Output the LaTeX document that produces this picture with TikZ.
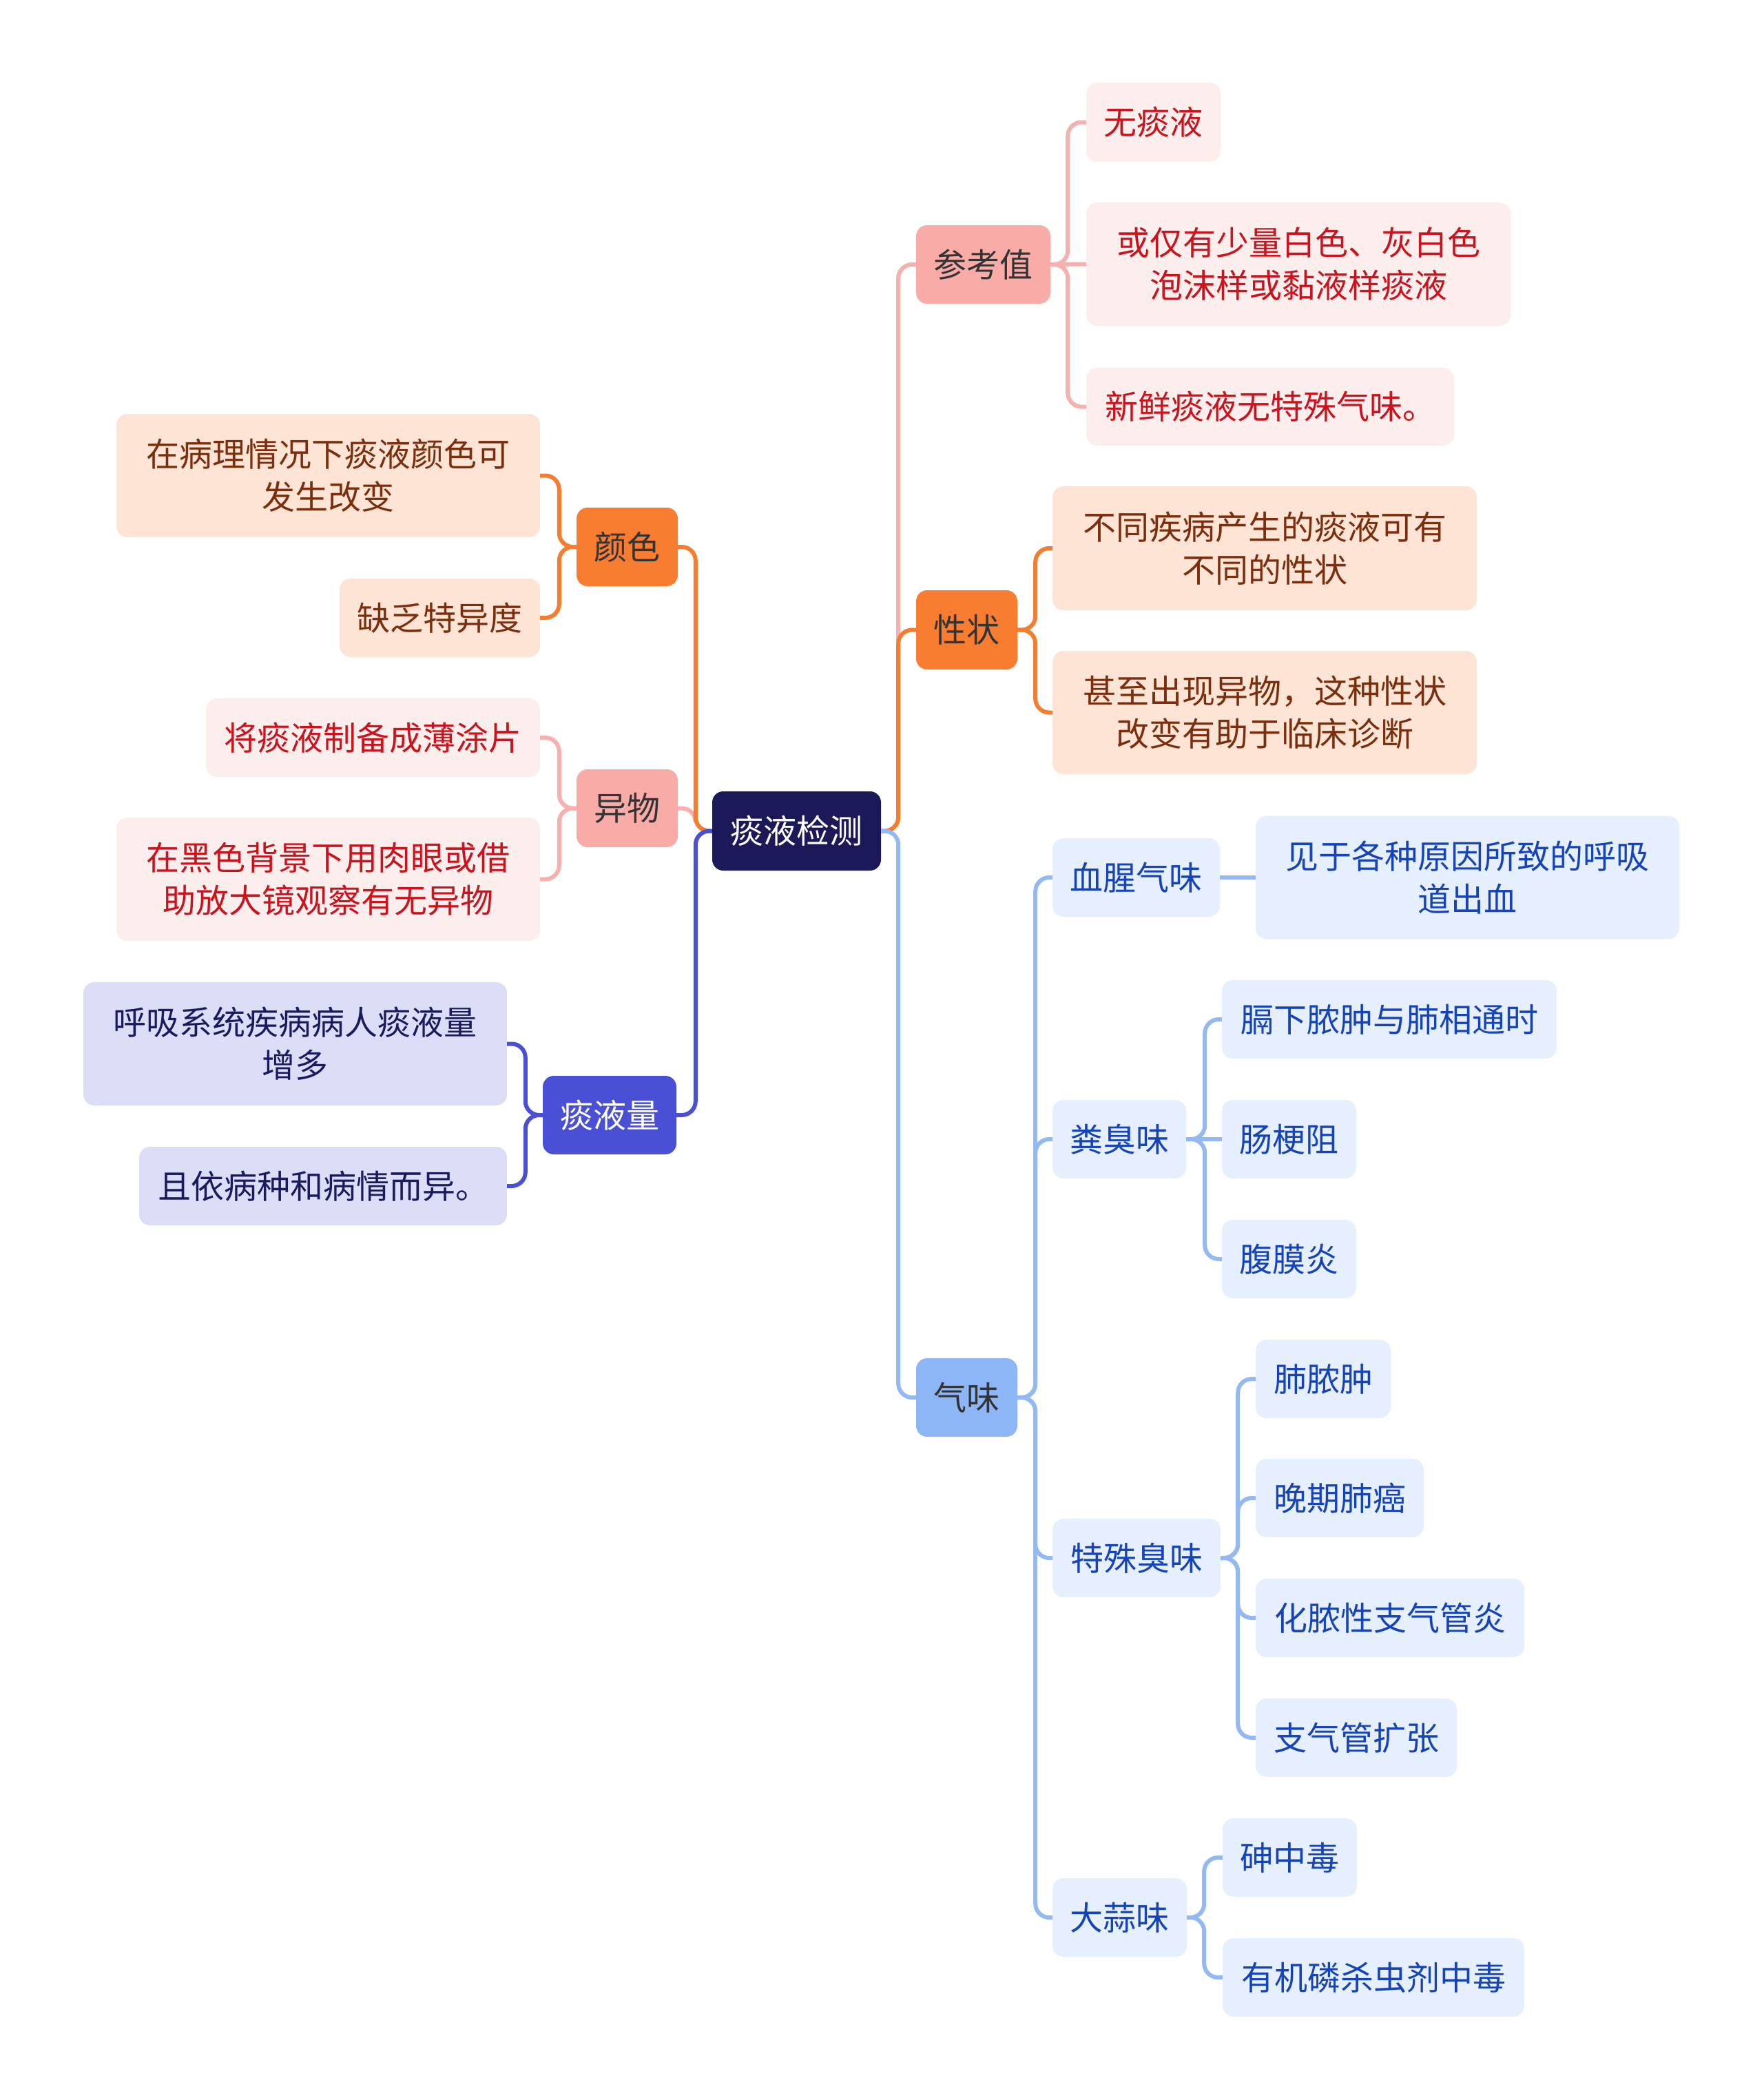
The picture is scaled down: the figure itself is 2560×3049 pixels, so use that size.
\documentclass[tikz,border=0pt]{standalone}
\usepackage{fontspec}
\usepackage{tikz}
\newfontfamily\cjk{Noto Sans CJK SC}
\definecolor{rootnavy}{RGB}{27,25,88}
\definecolor{pinkfill}{RGB}{249,171,168}
\definecolor{pinkleaf}{RGB}{253,238,238}
\definecolor{pinkline}{RGB}{246,176,174}
\definecolor{pinktext}{RGB}{204,18,28}
\definecolor{orangefill}{RGB}{249,125,49}
\definecolor{orangeleaf}{RGB}{253,228,212}
\definecolor{orangeline}{RGB}{245,125,48}
\definecolor{orangetext}{RGB}{122,46,14}
\definecolor{violetfill}{RGB}{74,80,214}
\definecolor{violetleaf}{RGB}{220,221,247}
\definecolor{violetline}{RGB}{75,80,210}
\definecolor{violettext}{RGB}{26,26,94}
\definecolor{bluefill}{RGB}{141,182,247}
\definecolor{blueleaf}{RGB}{230,239,253}
\definecolor{blueline}{RGB}{148,185,242}
\definecolor{bluetext}{RGB}{22,68,184}
\definecolor{darktext}{RGB}{51,51,51}

\begin{document}
\begin{tikzpicture}[
    x=1pt, y=-1pt,
    box/.style={rectangle, rounded corners=16, inner sep=0pt, align=center, font=\cjk\fontsize{48}{62}\selectfont},
    rootbox/.style={box, fill=rootnavy, text=white},
    pinktopic/.style={box, fill=pinkfill, text=darktext},
    pinknote/.style={box, fill=pinkleaf, text=pinktext},
    orangetopic/.style={box, fill=orangefill, text=darktext},
    orangenote/.style={box, fill=orangeleaf, text=orangetext},
    violettopic/.style={box, fill=violetfill, text=white},
    violetnote/.style={box, fill=violetleaf, text=violettext},
    bluetopic/.style={box, fill=bluefill, text=darktext},
    bluenote/.style={box, fill=blueleaf, text=bluetext},
    link/.style={line width=6pt, rounded corners=20pt},
    pinklink/.style={link, draw=pinkline},
    orangelink/.style={link, draw=orangeline},
    violetlink/.style={link, draw=violetline},
    bluelink/.style={link, draw=blueline}
]
\useasboundingbox (0,0) rectangle (2560,3049);

\node[rootbox, minimum width=245, minimum height=115] (root) at (1156.5,1206.5) {痰液检测};

\node[pinktopic, minimum width=195, minimum height=114] (ref) at (1427.5,384) {参考值};
\node[pinknote, minimum width=195, minimum height=115] (ref1) at (1674.5,177.5) {无痰液};
\node[pinknote, minimum width=616, minimum height=179] (ref2) at (1885,383.5) {或仅有少量白色、灰白色\\泡沫样或黏液样痰液};
\node[pinknote, minimum width=534, minimum height=113] (ref3) at (1844,590.5) {新鲜痰液无特殊气味。};

\node[orangetopic, minimum width=147, minimum height=115] (trait) at (1403.5,914.5) {性状};
\node[orangenote, minimum width=616, minimum height=180] (trait1) at (1836,796) {不同疾病产生的痰液可有\\不同的性状};
\node[orangenote, minimum width=616, minimum height=179] (trait2) at (1836,1034.5) {甚至出现异物，这种性状\\改变有助于临床诊断};

\node[bluetopic, minimum width=147, minimum height=114] (smell) at (1403.5,2029) {气味};
\node[bluenote, minimum width=243, minimum height=114] (blood) at (1649.5,1274) {血腥气味};
\node[bluenote, minimum width=615, minimum height=179] (blood1) at (2130.5,1274) {见于各种原因所致的呼吸\\道出血};
\node[bluenote, minimum width=194, minimum height=114] (fecal) at (1625,1654) {粪臭味};
\node[bluenote, minimum width=486, minimum height=114] (fecal1) at (2017,1480) {膈下脓肿与肺相通时};
\node[bluenote, minimum width=195, minimum height=114] (fecal2) at (1871.5,1654) {肠梗阻};
\node[bluenote, minimum width=195, minimum height=114] (fecal3) at (1871.5,1828) {腹膜炎};
\node[bluenote, minimum width=244, minimum height=114] (odd) at (1650,2262) {特殊臭味};
\node[bluenote, minimum width=196, minimum height=114] (odd1) at (1921,2002) {肺脓肿};
\node[bluenote, minimum width=244, minimum height=114] (odd2) at (1945,2175) {晚期肺癌};
\node[bluenote, minimum width=390, minimum height=114] (odd3) at (2018,2349) {化脓性支气管炎};
\node[bluenote, minimum width=292, minimum height=114] (odd4) at (1969,2523) {支气管扩张};
\node[bluenote, minimum width=195, minimum height=114] (garlic) at (1625.5,2784) {大蒜味};
\node[bluenote, minimum width=195, minimum height=114] (garlic1) at (1872.5,2697) {砷中毒};
\node[bluenote, minimum width=438, minimum height=114] (garlic2) at (1994,2871) {有机磷杀虫剂中毒};

\node[orangetopic, minimum width=147, minimum height=114] (colour) at (910.5,794) {颜色};
\node[orangenote, minimum width=615, minimum height=179] (colour1) at (476.5,690.5) {在病理情况下痰液颜色可\\发生改变};
\node[orangenote, minimum width=291, minimum height=114] (colour2) at (638.5,897) {缺乏特异度};

\node[pinktopic, minimum width=147, minimum height=113] (foreign) at (910.5,1173.5) {异物};
\node[pinknote, minimum width=485, minimum height=114] (foreign1) at (541.5,1071) {将痰液制备成薄涂片};
\node[pinknote, minimum width=615, minimum height=179] (foreign2) at (476.5,1276.5) {在黑色背景下用肉眼或借\\助放大镜观察有无异物};

\node[violettopic, minimum width=194, minimum height=114] (amount) at (885,1619) {痰液量};
\node[violetnote, minimum width=615, minimum height=179] (amount1) at (428.5,1515.5) {呼吸系统疾病病人痰液量\\增多};
\node[violetnote, minimum width=534, minimum height=114] (amount2) at (469,1722) {且依病种和病情而异。};

\draw[pinklink] (root.east) -- ++(25,0) |- (ref.west);
\draw[orangelink] (root.east) -- ++(25,0) |- (trait.west);
\draw[bluelink] (root.east) -- ++(25,0) |- (smell.west);

\draw[pinklink] (ref.east) -- ++(25,0) |- (ref1.west);
\draw[pinklink] (ref.east) -- (ref2.west);
\draw[pinklink] (ref.east) -- ++(25,0) |- (ref3.west);

\draw[orangelink] (trait.east) -- ++(26,0) |- (trait1.west);
\draw[orangelink] (trait.east) -- ++(26,0) |- (trait2.west);

\draw[bluelink] (smell.east) -- ++(26,0) |- (blood.west);
\draw[bluelink] (smell.east) -- ++(26,0) |- (fecal.west);
\draw[bluelink] (smell.east) -- ++(26,0) |- (odd.west);
\draw[bluelink] (smell.east) -- ++(26,0) |- (garlic.west);

\draw[bluelink] (blood.east) -- (blood1.west);
\draw[bluelink] (fecal.east) -- ++(27,0) |- (fecal1.west);
\draw[bluelink] (fecal.east) -- (fecal2.west);
\draw[bluelink] (fecal.east) -- ++(27,0) |- (fecal3.west);
\draw[bluelink] (odd.east) -- ++(25,0) |- (odd1.west);
\draw[bluelink] (odd.east) -- ++(25,0) |- (odd2.west);
\draw[bluelink] (odd.east) -- ++(25,0) |- (odd3.west);
\draw[bluelink] (odd.east) -- ++(25,0) |- (odd4.west);
\draw[bluelink] (garlic.east) -- ++(25,0) |- (garlic1.west);
\draw[bluelink] (garlic.east) -- ++(25,0) |- (garlic2.west);

\draw[pinklink] (root.west) -- ++(-24,0) |- (foreign.east);
\draw[orangelink] (root.west) -- ++(-24,0) |- (colour.east);
\draw[violetlink] (root.west) -- ++(-24,0) |- (amount.east);

\draw[orangelink] (colour.west) -- ++(-25,0) |- (colour1.east);
\draw[orangelink] (colour.west) -- ++(-25,0) |- (colour2.east);
\draw[pinklink] (foreign.west) -- ++(-25,0) |- (foreign1.east);
\draw[pinklink] (foreign.west) -- ++(-25,0) |- (foreign2.east);
\draw[violetlink] (amount.west) -- ++(-25,0) |- (amount1.east);
\draw[violetlink] (amount.west) -- ++(-25,0) |- (amount2.east);

\end{tikzpicture}
\end{document}
